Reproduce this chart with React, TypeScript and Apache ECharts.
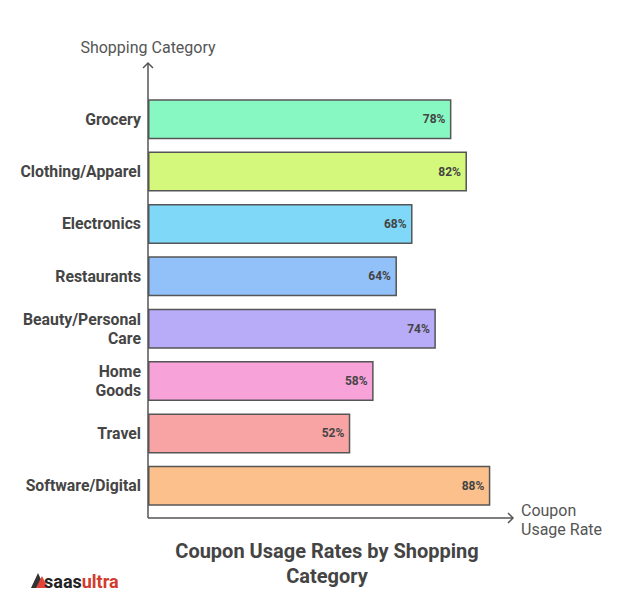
import React, { useEffect, useRef } from "react";
import * as echarts from "echarts";

const categories = [
  "Grocery",
  "Clothing/Apparel",
  "Electronics",
  "Restaurants",
  "Beauty/Personal\nCare",
  "Home\nGoods",
  "Travel",
  "Software/Digital",
];
const values = [78, 82, 68, 64, 74, 58, 52, 88];
const barColors = [
  "#88F8C2",
  "#D4F87C",
  "#7FD8F8",
  "#92C0F8",
  "#B8ACF8",
  "#F8A2DA",
  "#F8A4A4",
  "#FCC08C",
];
const titleText = "Coupon Usage Rates by Shopping\nCategory";
const yAxisName = "Shopping Category";
const xAxisName = "Coupon\nUsage Rate";

export default function App() {
  const ref = useRef<HTMLDivElement>(null);
  useEffect(() => {
    if (!ref.current) return;
    const chart = echarts.init(ref.current, undefined, { renderer: "svg" });
    const font = "Roboto, 'Noto Sans', sans-serif";
    const axisColor = "#555555";
    chart.setOption({
      animation: false,
      backgroundColor: "#ffffff",
      textStyle: { fontFamily: font },
      grid: { left: 148, top: 93, width: 389, height: 419 },
      xAxis: {
        type: "value",
        min: 0,
        max: 100,
        show: false,
        splitLine: { show: false },
      },
      yAxis: {
        type: "category",
        data: categories,
        inverse: true,
        axisLine: { show: false },
        axisTick: { show: false },
        axisLabel: {
          margin: 7,
          fontFamily: font,
          fontSize: 15.8,
          fontWeight: "bold",
          color: "#454545",
          lineHeight: 19,
          align: "right",
        },
      },
      series: [
        {
          type: "bar",
          barWidth: 40,
          data: values.map((v, i) => ({
            value: v,
            itemStyle: { color: barColors[i] },
          })),
          itemStyle: { borderColor: "#555555", borderWidth: 1.5 },
          label: {
            show: true,
            position: "insideRight",
            distance: 6,
            formatter: "{c}%",
            fontFamily: font,
            fontSize: 12,
            fontWeight: "bold",
            color: "#444444",
          },
        },
      ],
      graphic: [
        {
          type: "line",
          shape: { x1: 148, y1: 63, x2: 148, y2: 518 },
          style: { stroke: axisColor, lineWidth: 1.5 },
        },
        {
          type: "polyline",
          shape: { points: [[143, 68], [148, 63], [153, 68]] },
          style: { stroke: axisColor, lineWidth: 1.5, fill: null },
        },
        {
          type: "line",
          shape: { x1: 148, y1: 518, x2: 513, y2: 518 },
          style: { stroke: axisColor, lineWidth: 1.5 },
        },
        {
          type: "polyline",
          shape: { points: [[508, 513], [513, 518], [508, 523]] },
          style: { stroke: axisColor, lineWidth: 1.5, fill: null },
        },
        {
          type: "text",
          x: 148,
          y: 47,
          style: {
            text: yAxisName,
            fontFamily: font,
            fontSize: 16,
            fill: "#555555",
            align: "center",
            verticalAlign: "middle",
          },
        },
        {
          type: "text",
          x: 521,
          y: 520,
          style: {
            text: xAxisName,
            fontFamily: font,
            fontSize: 16,
            lineHeight: 19,
            fill: "#555555",
            align: "left",
            verticalAlign: "middle",
          },
        },
        {
          type: "text",
          x: 327,
          y: 563,
          style: {
            text: titleText,
            fontFamily: font,
            fontSize: 20,
            fontWeight: "bold",
            lineHeight: 25,
            fill: "#444444",
            align: "center",
            verticalAlign: "middle",
          },
        },
        {
          type: "polygon",
          shape: { points: [[31, 588], [38, 573], [45, 588]] },
          style: { fill: "#333333" },
        },
        {
          type: "polygon",
          shape: { points: [[36, 588], [42, 576], [48, 588]] },
          style: { fill: "#e0443a" },
        },
        {
          type: "text",
          x: 44,
          y: 581,
          style: {
            text: "{a|saas}{b|ultra}",
            fontFamily: font,
            fontSize: 18,
            fontWeight: "bold",
            align: "left",
            verticalAlign: "middle",
            rich: {
              a: { fontFamily: font, fontSize: 18, fontWeight: "bold", fill: "#222222" },
              b: { fontFamily: font, fontSize: 18, fontWeight: "bold", fill: "#d23a2c" },
            },
          },
        },
      ],
    });
    return () => chart.dispose();
  }, []);
  return (
    <div
      ref={ref}
      style={{ position: "absolute", left: 0, top: 0, width: 623, height: 600 }}
    />
  );
}
